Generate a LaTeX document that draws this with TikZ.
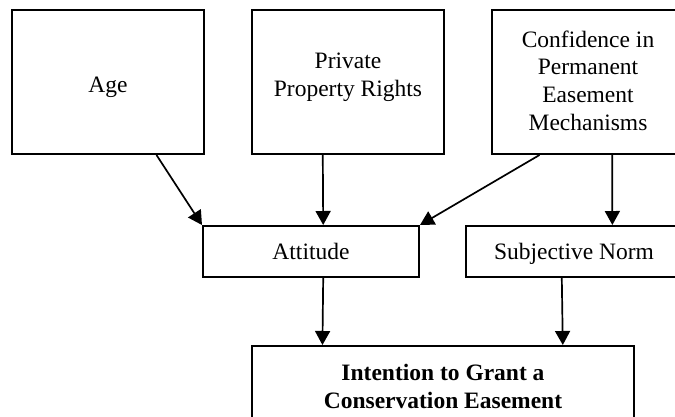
\documentclass[tikz,border=0pt]{standalone}
\usepackage{fontspec}
\setmainfont{Liberation Serif}
\usetikzlibrary{arrows.meta,calc}
\begin{document}
\begin{tikzpicture}[x=1pt,y=-1pt,
  box/.style={draw, line width=2pt, inner sep=0pt},
  bigbox/.style={box, minimum width=192pt, minimum height=144pt},
  midbox/.style={box, minimum width=216pt, minimum height=51pt},
  txt/.style={inner sep=0pt, align=center, font=\fontsize{23.5}{27.6}\selectfont},
  arr/.style={line width=1.7pt, -{Triangle[length=14pt,width=15pt]}}]
\useasboundingbox (0,0) rectangle (675,416);
\clip (0,0) rectangle (675,416);
% boxes
\node[bigbox] (age) at (108,82) {};
\node[txt] (agetxt) at (108,87.5) {Age};
\node[bigbox] (priv) at (348,82) {};
\node[txt] (privtxt) at (348,77) {Private\\Property Rights};
\node[bigbox] (conf) at (588,82) {};
\node[txt] (conftxt) at (588,80.5) {Confidence in\\Permanent\\Easement\\Mechanisms};
\node[midbox] (att) at (311,251.5) {};
\node[txt, anchor=base] (atttxt) at (311,259) {Attitude};
\node[midbox] (subj) at (574,251.5) {};
\node[txt, anchor=base] (subjtxt) at (574,259) {Subjective Norm};
\node[box, minimum width=382pt, minimum height=120pt] (int) at (443,406) {};
\node[txt, font=\fontsize{23.5}{27.6}\selectfont\bfseries] (inttxt) at (443,386.5) {Intention to Grant a\\Conservation Easement};
% connectors
\draw[arr] ($(age.south west)!0.75!(age.south east)$) -- (att.north west);
\draw[arr] ($(priv.south west)!0.37!(priv.south east)$) -- ($(att.north west)!0.556!(att.north east)$);
\draw[arr] ($(conf.south west)!0.25!(conf.south east)$) -- (att.north east);
\draw[arr] ($(conf.south west)!0.625!(conf.south east)$) -- ($(subj.north west)!0.676!(subj.north east)$);
\draw[arr] ($(att.south west)!0.556!(att.south east)$) -- ($(int.north west)!0.186!(int.north east)$);
\draw[arr] ($(subj.south west)!0.444!(subj.south east)$) -- ($(int.north west)!0.812!(int.north east)$);
\end{tikzpicture}
\end{document}
